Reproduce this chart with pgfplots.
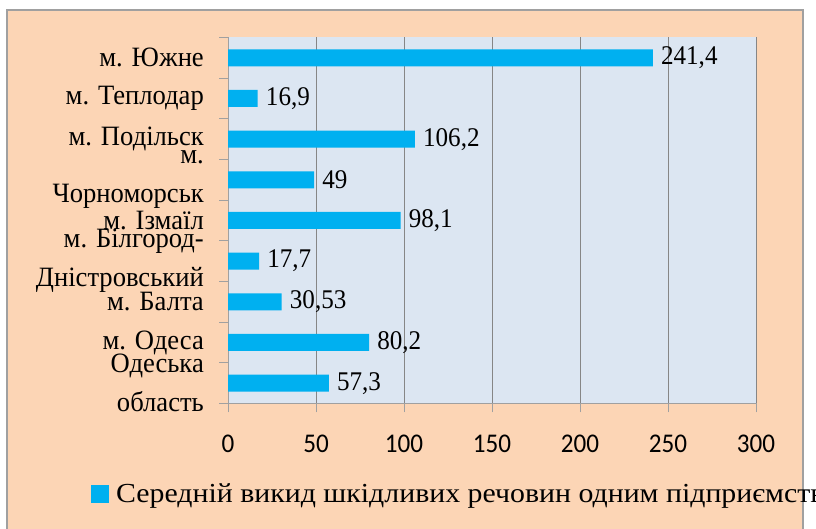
\documentclass[border=0pt]{standalone}
\usepackage{pgfplots}
\pgfplotsset{compat=1.18}
\usepackage{fontspec}
\setmainfont{Liberation Serif}
\newfontfamily\lblfont[FakeStretch=0.95]{Liberation Serif}
\newfontfamily\numfont[FakeStretch=0.93]{Liberation Serif}
\newfontfamily\legfont[FakeStretch=1.085]{Liberation Serif}
\newfontfamily\tickfont[FakeStretch=0.93]{Carlito}
\definecolor{peach}{HTML}{FCD5B5}
\definecolor{plotbg}{HTML}{DCE6F2}
\definecolor{barblue}{HTML}{00B0F0}
\definecolor{gridgray}{HTML}{868686}
\definecolor{framegray}{HTML}{A0A0A0}
\pgfplotstableread{
i v lab
0 57.3 57,3
1 80.2 80,2
2 30.53 30,53
3 17.7 17,7
4 98.1 98,1
5 49 49
6 106.2 106,2
7 16.9 16,9
8 241.4 241,4
}\datatable
\begin{document}
\begin{tikzpicture}[x=1pt,y=1pt]
\useasboundingbox (0,0) rectangle (816,529);
\fill[white] (0,0) rectangle (816,529);
\filldraw[fill=peach, draw=framegray, line width=1.2pt] (7,-10) rectangle (803,519);
\begin{axis}[
  at={(228pt,125.5pt)}, anchor=south west,
  scale only axis, width=528pt, height=366pt,
  xbar, bar width=17pt,
  xmin=0, xmax=300, ymin=-0.5, ymax=8.5,
  xtick={0,50,...,300},
  ytick={-0.5,0.5,1.5,2.5,3.5,4.5,5.5,6.5,7.5,8.5}, yticklabels={},
  axis lines*=left,
  axis line style={draw=framegray, line width=0.8pt},
  tick align=outside, major tick length=9pt,
  tick style={draw=framegray, line width=0.8pt},
  xmajorgrids, grid style={draw=gridgray, line width=0.8pt},
  axis background/.style={fill=plotbg},
  /pgf/number format/assume math mode=true,
  xticklabel style={font=\tickfont\fontsize{27}{27}\selectfont, anchor=north, inner sep=0pt, yshift=-22pt},
  extra y ticks={0,1,2,3,4,5,6,7,8},
  extra y tick labels={{Одеська\\[2pt]область},{м. Одеса},{м. Балта},{м. Білгород-\\[2pt]Дністровський},{м. Ізмаїл},{м.\\[2pt]Чорноморськ},{м. Подільск},{м. Теплодар},{м. Южне}},
  extra y tick style={major tick length=0pt, yticklabel style={align=right, font=\lblfont\fontsize{28}{37}\selectfont, inner sep=0pt, anchor=east, xshift=-24pt}},
  point meta=explicit symbolic,
  nodes near coords,
  nodes near coords style={font=\numfont\fontsize{27}{27}\selectfont, anchor=west, inner sep=0pt, xshift=8pt},
  legend style={at={(-0.2595,-0.2473)}, anchor=west, draw=none, fill=none, font=\legfont\fontsize{27.5}{27.5}\selectfont, inner sep=0pt},
  legend image code/.code={\fill[barblue] (0pt,-9pt) rectangle (18pt,9pt);},
  clip=false,
]
\addplot[fill=barblue, draw=none] table[x=v, y=i, meta=lab] {\datatable};
\addlegendentry{\hspace{5pt}Середній викид шкідливих речовин одним підприємств}
\end{axis}
\end{tikzpicture}
\end{document}
